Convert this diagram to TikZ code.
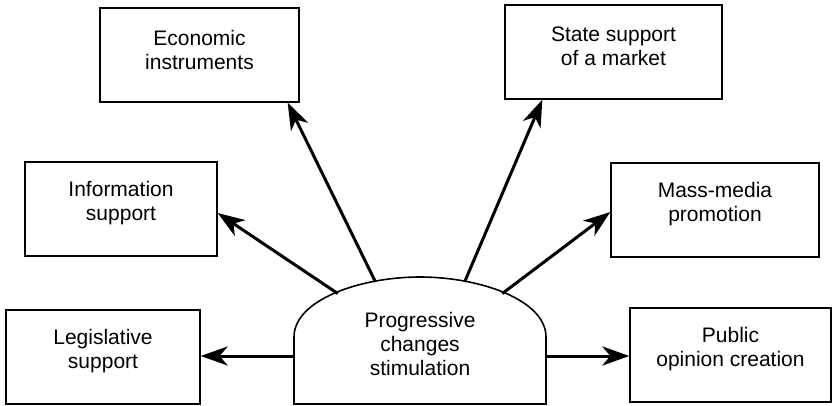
\documentclass[tikz,border=0pt]{standalone}
\usepackage{fontspec}
\setmainfont{Liberation Sans}
\usepackage{tikz}
\usetikzlibrary{arrows.meta,calc,positioning}
\tikzset{
  treebox/.style = {rectangle, black, draw, line width=1.3pt, minimum height=94pt},
  box_txt/.style = {align=center, inner sep=0pt, yshift=5.5pt, font=\fontsize{21}{24}\selectfont},
  box_l/.style = {treebox, minimum width=194pt},
  box_r/.style = {treebox, minimum width=201pt}
}

\begin{document}
\begin{tikzpicture}[x=1pt,y=-1pt,
            >={Stealth[length=27pt,width=19pt,inset=8pt]},
            spoke/.style={->, line width=3pt, shorten <=-1pt},
            dome/.style={draw, line width=1.6pt}]
            \useasboundingbox (0,0) rectangle (832,406);
            % central dome
            \draw [dome] (294,404) -- (294,337) .. controls (294,300) and (360,277) .. (420,277)
                .. controls (480,277) and (546,300) .. (546,337) -- (546,404) -- cycle;
            \node [align=center, font=\fontsize{21}{24}\selectfont] (core) at (420,344)
                {Progressive\\changes\\stimulation};
            \coordinate (t_econ) at (375,281);
            \coordinate (t_state) at (465,281);
            \coordinate (t_info) at (337,293);
            \coordinate (t_media) at (503,293);
            \coordinate (t_legis) at (294,356);
            \coordinate (t_public) at (546,356);
            % boxes
            \node [treebox, minimum width=199pt, label={[box_txt]center:{Economic\\instruments}}] (econ) at (199.5,55) {};
            \node [treebox, minimum width=217pt, label={[box_txt]center:{State support\\of a market}}] (state) at (613.5,52) {};
            \node [treebox, minimum width=192pt, label={[box_txt]center:{Information\\support}}] (info) at (121,209) {};
            \node [treebox, minimum width=208pt, label={[box_txt]center:{Mass-media\\promotion}}] (media) at (715,210) {};
            \node [box_l, label={[box_txt]center:{Legislative\\support}}] (legis) at (103,357) {};
            \node [box_r, label={[box_txt]center:{Public\\opinion creation}}] (public) at (730.5,355) {};
            % arrows
            \draw [spoke] (t_econ) -- ([xshift=-12pt]econ.south east);
            \draw [spoke] (t_state) -- ([xshift=38pt]state.south west);
            \draw [spoke] (t_info) -- ([yshift=-4pt]info.east);
            \draw [spoke] (t_media) -- ([yshift=-2pt]media.west);
            \draw [spoke] (t_legis) -- (t_legis -| legis.east);
            \draw [spoke] (t_public) -- (t_public -| public.west);
        \end{tikzpicture}
\end{document}
